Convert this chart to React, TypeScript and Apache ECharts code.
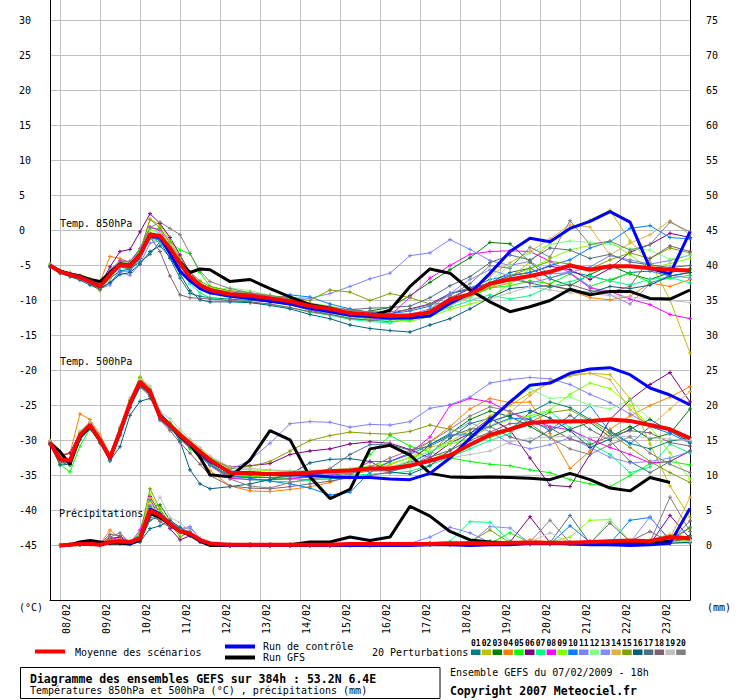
import React, { useEffect, useRef } from 'react';
import * as echarts from 'echarts';

// ---------- axes ----------
const HOURS = [0, 6, 12, 18, 24, 30, 36, 42, 48, 54, 60, 66, 72, 78, 84, 90, 96, 108, 120, 132, 144, 156, 168, 180, 192, 204, 216, 228, 240, 252, 264, 276, 288, 300, 312, 324, 336, 348, 360, 372, 384];
const GRID_STEPS = ['0', '6', '12', '18', '24', '30', '36', '42', '48', '54', '60', '66', '72', '78', '84', '90', '96', '102', '108', '114', '120', '126', '132', '138', '144', '150', '156', '162', '168', '174', '180', '186', '192', '198', '204', '210', '216', '222', '228', '234', '240', '246', '252', '258', '264', '270', '276', '282', '288', '294', '300', '306', '312', '318', '324', '330', '336', '342', '348', '354', '360', '366', '372', '378', '384'];
const DAY_TICKS = [6, 30, 54, 78, 102, 126, 150, 174, 198, 222, 246, 270, 294, 318, 342, 366];
const DAY_LABELS = ['08/02', '09/02', '10/02', '11/02', '12/02', '13/02', '14/02', '15/02', '16/02', '17/02', '18/02', '19/02', '20/02', '21/02', '22/02', '23/02'];
const LABEL_SHIFT = 4.0;
const TEMP_TICKS = [-45, -40, -35, -30, -25, -20, -15, -10, -5, 0, 5, 10, 15, 20, 25, 30];
const PRECIP_TICKS = [0, 5, 10, 15, 20, 25, 30, 35, 40, 45, 50, 55, 60, 65, 70, 75];
const PERT_COLORS = ['#008080', '#c0c000', '#008000', '#ff8000', '#00ff00', '#800080', '#00ff80', '#ff00ff', '#80ff00', '#0080ff', '#8080ff', '#80ff80', '#8888ff', '#e0b040', '#80a000', '#006080', '#507080', '#806070', '#c0c0c0', '#808080'];
const PERT_NAMES = ['01', '02', '03', '04', '05', '06', '07', '08', '09', '10', '11', '12', '13', '14', '15', '16', '17', '18', '19', '20'];

// ---------- T850 ----------
const T850_MEAN = [-5.0, -5.9, -6.3, -6.7, -7.3, -8.0, -6.3, -4.9, -5.1, -3.5, -0.6, -0.8, -2.5, -4.7, -6.6, -7.8, -8.5, -9.1, -9.3, -9.7, -10.1, -10.8, -11.2, -11.8, -12.0, -12.2, -12.1, -11.7, -9.9, -9.1, -7.6, -7.0, -6.5, -5.9, -5.0, -5.6, -5.1, -5.1, -5.4, -5.6, -5.7];
const T850_CTRL = [-5.0, -5.8, -6.2, -6.6, -7.2, -8.0, -6.2, -4.8, -5.0, -3.4, -0.8, -1.0, -3.3, -5.8, -7.2, -8.3, -8.9, -9.4, -9.7, -10.1, -10.5, -11.1, -11.6, -12.1, -12.3, -12.5, -12.5, -12.2, -10.4, -9.0, -6.1, -3.0, -1.1, -1.6, 0.3, 1.3, 2.7, 1.2, -5.4, -6.2, -0.2];
const T850_GFS = [-5.0, -5.8, -6.2, -6.5, -7.0, -7.3, -6.0, -4.8, -5.0, -3.4, -0.5, -0.9, -2.7, -4.5, -6.0, -5.5, -5.6, -7.3, -7.0, -8.3, -9.5, -10.6, -11.1, -12.0, -12.2, -11.4, -8.0, -5.5, -6.1, -8.5, -10.2, -11.6, -10.9, -10.0, -8.4, -9.2, -8.7, -8.7, -9.7, -9.8, -8.5];
const T850_P01 = [-5.1, -5.8, -6.2, -6.8, -7.5, -8.2, -6.8, -5.8, -5.5, -4.5, -3.4, -1.6, -4.0, -6.8, -9.0, -9.4, -9.6, -9.8, -10.0, -10.2, -10.6, -11.4, -12.0, -12.5, -12.8, -13.0, -12.5, -11.4, -9.8, -8.3, -7.5, -6.0, -5.4, -6.8, -5.9, -6.5, -7.2, -6.0, -5.8, -6.5, -6.0];
const T850_P02 = [-5.0, -6.0, -6.5, -6.9, -7.6, -8.6, -6.8, -5.1, -4.8, -3.0, 1.6, 0.8, -1.4, -3.8, -6.2, -7.9, -8.8, -9.3, -9.6, -9.8, -10.3, -11.0, -11.5, -12.3, -12.6, -12.8, -12.4, -11.9, -10.5, -9.4, -8.2, -6.7, -4.5, -1.8, 0.3, 1.5, 2.9, -1.5, -4.5, -9.9, -17.5];
const T850_P03 = [-5.0, -5.9, -6.2, -6.6, -7.2, -7.9, -6.0, -4.7, -5.0, -3.6, -0.9, -1.0, -2.4, -4.4, -6.3, -7.6, -8.4, -9.0, -9.2, -9.6, -10.0, -10.7, -11.4, -11.9, -11.5, -11.0, -9.3, -7.4, -5.6, -3.9, -1.7, -1.9, -4.5, -6.9, -7.9, -6.3, -5.0, -6.2, -7.0, -6.0, -5.5];
const T850_P04 = [-5.0, -5.7, -6.0, -6.4, -6.9, -7.4, -3.7, -4.0, -4.6, -3.4, -0.8, -1.2, -2.8, -5.0, -6.9, -8.1, -8.8, -9.2, -9.5, -9.7, -10.0, -10.5, -11.0, -11.5, -11.7, -12.2, -12.5, -11.5, -10.2, -9.0, -8.2, -7.5, -6.4, -7.8, -8.6, -9.6, -9.9, -9.4, -7.5, -8.0, -7.0];
const T850_P05 = [-4.8, -5.6, -6.1, -6.5, -7.0, -7.6, -5.9, -4.6, -4.4, -2.9, 0.4, 0.2, -1.6, -2.8, -3.3, -6.0, -8.0, -8.8, -9.1, -9.5, -10.0, -10.7, -11.3, -12.0, -12.5, -12.9, -12.8, -12.0, -10.7, -9.5, -8.2, -7.9, -7.2, -7.6, -6.2, -8.0, -7.0, -6.1, -7.4, -6.8, -6.4];
const T850_P06 = [-5.1, -5.9, -6.4, -6.8, -7.4, -7.8, -5.2, -3.0, -2.7, -0.2, 2.4, 1.0, -1.0, -3.5, -6.0, -7.5, -8.3, -8.9, -9.1, -9.5, -10.0, -10.8, -11.3, -11.7, -12.0, -11.9, -11.2, -10.5, -9.0, -8.4, -7.5, -6.5, -6.0, -5.1, -5.6, -7.0, -5.4, -3.1, -2.0, -0.4, -1.0];
const T850_P07 = [-5.1, -6.0, -6.5, -6.9, -7.4, -8.1, -6.6, -5.3, -5.4, -3.8, -1.2, -1.6, -3.2, -5.4, -7.6, -8.9, -9.6, -10.1, -10.3, -10.6, -11.0, -11.7, -12.1, -12.7, -13.0, -13.2, -12.6, -12.0, -11.0, -10.0, -9.2, -9.8, -9.3, -8.0, -7.3, -6.5, -7.2, -7.8, -7.0, -6.7, -7.5];
const T850_P08 = [-5.0, -6.0, -6.4, -6.8, -7.4, -7.9, -5.8, -4.3, -4.5, -2.6, 0.5, 0.0, -2.2, -4.6, -6.8, -8.0, -8.9, -9.4, -9.7, -10.0, -10.5, -11.3, -11.8, -12.3, -12.7, -12.2, -9.5, -6.8, -5.0, -3.4, -3.0, -2.9, -3.0, -4.4, -6.1, -8.2, -8.7, -9.8, -10.6, -12.0, -12.6];
const T850_P09 = [-4.9, -5.7, -6.0, -6.5, -7.0, -7.7, -6.0, -4.7, -4.8, -3.1, 0.1, -0.3, -2.1, -4.3, -6.3, -7.5, -8.2, -8.7, -9.0, -9.3, -9.7, -10.4, -10.8, -11.5, -12.3, -12.8, -13.0, -12.3, -11.3, -10.5, -9.8, -7.5, -5.5, -4.0, -2.8, -2.1, -1.6, -3.5, -5.5, -4.7, -4.0];
const T850_P10 = [-5.1, -6.0, -6.5, -6.9, -7.6, -8.2, -7.5, -5.8, -5.8, -4.0, -1.0, -1.3, -2.6, -5.0, -7.1, -8.2, -8.9, -9.4, -9.5, -9.8, -9.2, -9.5, -10.5, -11.2, -11.7, -11.9, -11.5, -10.8, -9.0, -8.2, -7.0, -6.4, -6.0, -5.0, -4.2, -2.5, -1.6, 0.3, 0.7, -1.0, -1.2];
const T850_P11 = [-5.0, -5.8, -6.3, -6.8, -7.5, -8.3, -7.8, -6.0, -6.4, -4.8, -1.8, -1.5, -2.9, -4.9, -6.8, -7.8, -8.4, -8.8, -9.0, -9.4, -9.6, -9.7, -9.0, -8.0, -6.9, -6.1, -3.6, -3.2, -1.3, -2.7, -4.3, -5.0, -4.4, -6.2, -6.0, -5.2, -3.6, -4.2, -4.8, -4.3, -3.5];
const T850_P12 = [-5.0, -5.9, -6.3, -6.7, -7.2, -7.8, -6.1, -4.8, -5.0, -3.3, -0.3, -0.6, -2.6, -4.8, -6.8, -8.0, -8.6, -8.2, -8.6, -9.3, -10.3, -11.2, -11.8, -12.4, -12.7, -12.9, -12.5, -11.8, -10.2, -8.9, -7.2, -5.0, -3.2, -2.0, -1.5, -1.7, -2.0, -2.6, -2.8, -4.1, -3.5];
const T850_P13 = [-5.1, -5.9, -6.3, -6.8, -7.4, -8.1, -6.4, -5.0, -5.2, -3.7, -0.9, -1.1, -2.8, -5.1, -6.9, -8.1, -8.8, -9.3, -9.5, -9.9, -10.3, -11.0, -11.6, -12.2, -12.4, -12.6, -12.0, -11.2, -9.0, -7.0, -5.6, -6.5, -7.5, -6.8, -6.0, -8.0, -9.2, -10.5, -7.6, -6.4, -6.8];
const T850_P14 = [-5.0, -5.9, -6.2, -6.6, -7.2, -7.9, -6.2, -4.8, -4.9, -3.3, -0.3, -0.5, -2.3, -4.4, -6.3, -7.6, -8.3, -8.9, -9.2, -9.6, -10.1, -10.8, -11.3, -11.9, -12.2, -12.4, -12.2, -11.8, -10.9, -8.8, -6.5, -4.6, -3.0, -1.2, 0.8, 0.5, -3.5, -1.8, -0.6, 1.4, -0.6];
const T850_P15 = [-5.0, -5.8, -6.2, -6.6, -7.2, -8.0, -6.2, -4.6, -4.7, -3.0, 1.6, 0.4, -1.8, -4.0, -5.9, -7.2, -8.0, -8.6, -8.9, -9.3, -9.6, -10.0, -8.5, -8.8, -10.0, -9.0, -9.6, -10.5, -10.4, -9.0, -7.8, -6.5, -5.4, -4.4, -4.8, -5.5, -4.2, -3.2, -4.0, -2.5, -3.2];
const T850_P16 = [-5.2, -6.1, -6.6, -7.1, -7.8, -8.4, -7.4, -6.3, -6.0, -4.8, -3.0, -2.2, -3.8, -6.2, -8.6, -9.9, -10.2, -10.2, -10.3, -10.7, -11.2, -12.0, -12.6, -13.5, -14.0, -14.3, -14.5, -13.5, -12.6, -11.2, -9.6, -8.3, -8.0, -7.9, -8.4, -8.9, -8.0, -8.3, -7.8, -6.5, -6.0];
const T850_P17 = [-5.1, -5.9, -6.4, -6.8, -7.3, -8.0, -6.2, -4.9, -5.3, -3.9, -1.0, -1.4, -3.1, -5.1, -6.9, -8.0, -8.6, -9.1, -9.3, -9.7, -10.2, -10.7, -11.0, -11.3, -11.1, -11.0, -10.8, -9.6, -7.9, -6.6, -4.6, -3.5, -4.2, -2.5, -2.8, -4.0, -3.4, -4.5, -4.9, -5.3, -5.0];
const T850_P18 = [-5.0, -5.9, -6.4, -6.9, -7.5, -8.3, -6.6, -5.2, -5.5, -4.0, -0.9, -3.0, -6.5, -9.2, -9.6, -9.7, -9.8, -10.0, -10.2, -10.5, -11.0, -11.6, -12.0, -12.6, -12.8, -12.7, -12.5, -11.3, -9.6, -8.3, -7.6, -6.9, -7.5, -8.1, -7.7, -8.6, -8.8, -8.0, -4.0, -2.2, -3.0];
const T850_P19 = [-5.0, -5.9, -6.3, -6.7, -7.3, -8.0, -6.3, -5.0, -5.1, -3.6, -0.5, -0.3, -2.0, -4.3, -6.4, -7.6, -8.4, -9.0, -9.3, -9.6, -10.0, -10.6, -11.0, -11.5, -11.9, -12.1, -12.0, -11.6, -10.6, -9.6, -9.8, -8.9, -8.0, -8.5, -8.9, -9.0, -9.3, -9.5, -9.8, -10.0, -10.3];
const T850_P20 = [-5.0, -5.9, -6.3, -6.6, -7.1, -7.6, -5.6, -4.4, -4.4, -2.6, 0.4, 1.2, 0.3, -0.6, -3.3, -5.8, -7.3, -8.3, -8.9, -9.3, -9.8, -10.4, -10.9, -11.4, -11.6, -11.6, -11.3, -10.6, -9.3, -7.6, -5.0, -5.4, -2.4, -3.8, 1.4, -2.0, -1.5, -2.8, -2.0, 1.2, -0.2];

// ---------- T500 ----------
const T500_MEAN = [-30.3, -32.7, -32.9, -29.2, -27.8, -29.9, -32.5, -28.7, -24.7, -21.6, -23.0, -26.6, -27.8, -29.2, -30.4, -31.6, -32.8, -34.6, -34.7, -34.8, -34.7, -34.6, -34.4, -34.3, -34.0, -34.0, -33.6, -32.9, -32.1, -30.6, -29.2, -28.4, -27.5, -27.3, -27.3, -27.2, -27.0, -27.2, -27.8, -28.4, -29.7];
const T500_CTRL = [-30.3, -32.6, -33.0, -29.3, -27.8, -29.9, -32.6, -28.8, -24.8, -21.7, -23.1, -26.6, -27.9, -29.3, -30.5, -31.8, -33.0, -34.5, -34.6, -34.8, -34.9, -35.0, -35.2, -35.3, -35.3, -35.5, -35.6, -34.7, -32.5, -29.7, -27.1, -24.5, -22.1, -21.8, -20.4, -19.8, -19.6, -20.6, -22.5, -23.5, -24.9];
const T500_GFS = [-30.3, -31.6, -33.4, -29.5, -28.0, -30.0, -32.4, -28.8, -24.8, -21.8, -23.0, -26.5, -27.7, -29.4, -30.6, -32.4, -34.9, -35.2, -32.8, -28.6, -29.9, -35.2, -38.3, -37.0, -31.2, -30.7, -32.1, -34.7, -35.2, -35.3, -35.2, -35.3, -35.4, -35.6, -34.7, -35.6, -36.8, -37.2, -35.3, -36.0, null];
const T500_P01 = [-30.5, -33.2, -33.0, -29.5, -27.3, -29.6, -32.8, -29.3, -25.2, -22.4, -23.3, -26.8, -28.1, -29.8, -31.0, -32.1, -33.5, -35.0, -35.2, -35.3, -35.4, -35.2, -35.0, -34.6, -34.4, -34.2, -33.2, -31.8, -29.7, -27.6, -26.8, -28.5, -26.0, -24.5, -25.3, -27.0, -28.6, -30.4, -31.2, -30.1, -29.6];
const T500_P02 = [-30.2, -32.5, -33.0, -29.0, -27.5, -29.7, -32.3, -28.6, -24.8, -21.2, -22.8, -26.3, -27.6, -29.3, -30.6, -31.8, -33.0, -34.9, -35.1, -35.3, -35.1, -34.8, -34.6, -34.5, -34.0, -33.5, -32.4, -31.0, -30.2, -28.5, -26.5, -25.0, -23.2, -21.8, -20.8, -20.4, -20.6, -24.0, -30.5, -36.5, -41.0];
const T500_P03 = [-30.3, -32.8, -33.2, -29.3, -27.7, -30.0, -32.6, -28.8, -25.0, -21.8, -23.2, -26.5, -27.9, -29.4, -30.6, -31.8, -33.0, -34.8, -34.8, -35.0, -35.0, -34.8, -34.6, -34.5, -34.3, -34.0, -33.0, -30.6, -29.0, -27.0, -25.8, -26.6, -28.0, -29.6, -28.4, -27.4, -29.5, -28.0, -29.8, -29.0, -25.5];
const T500_P04 = [-30.0, -32.0, -31.8, -26.2, -27.0, -29.2, -32.0, -28.2, -24.2, -21.4, -22.8, -26.4, -28.0, -29.6, -31.0, -32.5, -34.3, -36.5, -37.2, -37.3, -37.0, -36.6, -36.0, -35.0, -34.2, -33.0, -31.8, -30.2, -28.0, -25.5, -24.0, -24.6, -24.5, -29.0, -34.0, -31.5, -28.4, -26.5, -25.0, -23.8, -22.3];
const T500_P05 = [-30.5, -33.4, -34.5, -30.8, -28.3, -30.4, -32.9, -29.0, -25.0, -22.0, -23.6, -27.0, -28.3, -29.8, -31.2, -32.3, -33.5, -35.0, -35.2, -35.3, -35.5, -35.6, -35.5, -35.2, -32.0, -29.3, -30.8, -31.6, -32.5, -33.0, -33.4, -33.6, -34.2, -34.6, -35.6, -36.2, -36.6, -35.0, -33.3, -33.0, -33.5];
const T500_P06 = [-30.2, -32.3, -31.8, -28.8, -27.4, -29.6, -32.3, -28.4, -24.4, -21.3, -22.8, -26.3, -27.6, -29.0, -30.2, -31.4, -32.6, -33.8, -33.6, -33.3, -32.0, -31.5, -31.2, -30.5, -30.2, -30.4, -31.3, -32.5, -30.4, -29.0, -26.8, -28.5, -32.5, -36.4, -36.6, -32.0, -27.0, -24.2, -22.0, -20.3, -24.5];
const T500_P07 = [-30.4, -33.0, -33.6, -29.7, -28.0, -30.2, -32.6, -28.9, -25.0, -21.9, -23.3, -26.8, -28.1, -29.5, -30.7, -31.8, -33.1, -35.3, -35.6, -35.8, -35.9, -35.7, -35.4, -35.0, -34.8, -34.7, -34.4, -33.5, -32.4, -31.2, -30.0, -29.0, -26.8, -25.8, -28.2, -30.4, -32.0, -34.6, -33.8, -30.5, -31.8];
const T500_P08 = [-30.3, -32.6, -32.6, -29.0, -27.6, -29.9, -32.6, -29.0, -25.3, -22.0, -23.4, -27.0, -28.0, -29.4, -30.8, -32.0, -33.4, -35.4, -35.6, -35.6, -35.5, -35.2, -34.9, -34.5, -33.0, -33.0, -31.8, -29.5, -25.0, -24.0, -24.5, -26.0, -27.0, -28.0, -28.5, -29.8, -31.0, -32.0, -33.2, -33.0, -31.5];
const T500_P09 = [-30.1, -32.4, -32.6, -28.8, -27.4, -29.5, -32.1, -28.2, -24.2, -20.9, -22.5, -26.2, -27.4, -28.8, -30.0, -31.2, -32.4, -34.0, -34.2, -34.3, -34.4, -34.3, -34.2, -34.0, -33.6, -33.3, -32.5, -31.6, -30.5, -29.8, -28.0, -27.0, -26.5, -25.6, -23.4, -21.8, -22.6, -25.0, -28.0, -31.8, -35.5];
const T500_P10 = [-30.4, -32.9, -33.1, -29.5, -28.0, -30.1, -32.7, -28.9, -25.0, -21.9, -23.3, -26.9, -28.1, -29.5, -30.8, -32.1, -33.4, -35.0, -35.4, -35.8, -36.2, -36.8, -37.8, -37.4, -34.5, -33.0, -32.0, -30.6, -29.2, -29.2, -28.0, -26.8, -27.0, -28.6, -27.3, -25.0, -28.8, -30.5, -28.0, -29.0, -30.4];
const T500_P11 = [-30.3, -32.7, -32.8, -29.1, -27.8, -29.8, -32.4, -28.6, -24.7, -21.6, -23.0, -26.6, -27.8, -29.2, -30.4, -31.6, -32.9, -34.2, -32.8, -30.4, -27.6, -27.3, -27.4, -28.1, -27.7, -27.8, -27.3, -25.4, -24.9, -23.8, -21.8, -21.3, -21.0, -21.2, -22.0, -23.4, -24.6, -26.2, -27.8, -28.5, -30.0];
const T500_P12 = [-30.2, -32.6, -33.0, -29.3, -27.6, -29.8, -32.2, -28.4, -24.4, -21.3, -22.6, -26.1, -27.5, -28.9, -30.2, -31.4, -32.7, -34.4, -34.5, -34.7, -34.8, -34.8, -34.7, -34.5, -34.2, -33.8, -32.9, -31.5, -30.3, -29.7, -27.4, -24.5, -22.6, -24.0, -23.8, -25.0, -25.5, -24.2, -27.0, -28.6, -30.0];
const T500_P13 = [-30.3, -32.8, -33.0, -29.2, -27.9, -30.0, -32.5, -28.8, -24.9, -21.8, -23.2, -26.7, -28.0, -29.3, -30.5, -31.7, -33.0, -34.7, -34.9, -35.0, -35.0, -34.9, -34.8, -34.6, -34.3, -34.4, -33.8, -32.0, -29.0, -27.4, -28.8, -30.4, -31.2, -30.6, -29.6, -31.0, -32.4, -33.2, -33.0, -32.5, -31.6];
const T500_P14 = [-30.2, -32.6, -32.8, -29.0, -27.5, -29.6, -32.3, -28.5, -24.5, -21.4, -22.8, -26.4, -27.7, -29.1, -30.3, -31.5, -32.8, -34.5, -34.7, -34.8, -34.8, -34.7, -34.6, -34.5, -34.2, -34.0, -33.5, -32.8, -31.5, -29.7, -28.0, -26.0, -23.6, -21.5, -20.6, -20.4, -21.3, -25.6, -28.0, -25.5, -23.0];
const T500_P15 = [-30.1, -32.5, -32.7, -29.1, -27.6, -29.7, -32.3, -28.4, -24.3, -21.0, -22.7, -26.2, -27.5, -29.0, -30.2, -31.3, -32.5, -34.0, -33.7, -33.0, -31.5, -30.0, -29.3, -28.8, -29.0, -29.1, -28.7, -27.8, -28.4, -29.2, -29.6, -28.6, -27.4, -26.0, -25.6, -27.2, -29.0, -31.0, -33.0, -34.6, -36.0];
const T500_P16 = [-30.6, -33.5, -33.4, -29.9, -28.3, -30.2, -32.9, -30.9, -26.4, -24.4, -24.0, -25.9, -27.8, -30.1, -34.2, -36.2, -36.9, -36.6, -36.2, -35.6, -34.8, -33.2, -32.7, -32.6, -33.0, -34.5, -34.8, -33.6, -31.4, -29.0, -27.3, -26.4, -25.7, -26.8, -28.6, -31.0, -29.8, -28.4, -27.0, -28.7, -30.2];
const T500_P17 = [-30.4, -33.0, -33.2, -29.6, -28.1, -30.2, -32.7, -29.0, -25.1, -22.0, -23.5, -27.0, -28.3, -29.7, -31.0, -32.2, -33.5, -35.2, -35.3, -35.3, -35.1, -34.8, -34.0, -32.0, -30.6, -30.6, -31.4, -30.8, -29.4, -28.4, -28.0, -29.5, -30.2, -28.5, -26.4, -28.4, -30.0, -33.0, -34.6, -33.0, -31.5];
const T500_P18 = [-30.5, -33.1, -33.5, -29.8, -28.2, -30.4, -32.8, -29.2, -25.3, -22.3, -23.7, -27.1, -28.6, -30.3, -31.8, -33.4, -35.0, -36.5, -36.8, -36.9, -36.6, -36.2, -35.8, -35.3, -35.0, -34.5, -33.6, -32.4, -31.4, -30.0, -28.8, -27.6, -27.4, -28.2, -29.8, -30.6, -29.4, -28.6, -28.9, -30.3, -30.8];
const T500_P19 = [-30.1, -32.4, -32.5, -28.7, -27.3, -29.4, -32.0, -28.0, -23.9, -21.2, -22.2, -25.9, -26.9, -28.4, -29.8, -31.0, -32.2, -33.8, -34.0, -34.2, -34.3, -34.3, -34.2, -34.1, -34.0, -33.8, -33.2, -33.0, -32.5, -32.0, -31.5, -30.2, -29.7, -29.5, -29.4, -29.6, -29.5, -29.4, -29.6, -29.8, -30.0];
const T500_P20 = [-30.3, -32.9, -33.2, -29.4, -27.8, -30.0, -32.6, -28.8, -24.8, -21.7, -23.1, -26.7, -28.0, -29.4, -30.8, -32.2, -33.6, -35.5, -36.5, -36.8, -36.0, -35.5, -35.2, -34.8, -33.8, -32.5, -31.4, -30.2, -28.4, -26.5, -25.2, -25.8, -27.6, -29.6, -31.2, -32.0, -30.6, -29.5, -31.8, -33.4, -34.6];

// ---------- precipitation (mm) ----------
const PR_MEAN = [null, 0.0, 0.1, 0.2, 0.2, 0.1, 0.5, 0.6, 0.5, 1.0, 5.0, 4.3, 3.1, 2.0, 1.7, 0.8, 0.3, 0.1, 0.1, 0.1, 0.1, 0.1, 0.1, 0.2, 0.2, 0.2, 0.2, 0.2, 0.3, 0.3, 0.3, 0.4, 0.4, 0.4, 0.4, 0.5, 0.6, 0.7, 0.6, 1.2, 1.0];
const PR_CTRL = [null, 0.0, 0.1, 0.2, 0.2, 0.1, 0.5, 0.5, 0.3, 1.1, 5.2, 4.5, 3.0, 2.0, 1.6, 0.7, 0.2, 0.0, 0.0, 0.0, 0.0, 0.0, 0.0, 0.0, 0.0, 0.0, 0.0, 0.1, 0.1, 0.0, 0.1, 0.1, 0.3, 0.4, 0.2, 0.1, 0.1, 0.0, 0.1, 0.3, 5.3];
const PR_GFS = [null, 0.0, 0.1, 0.5, 0.7, 0.5, 0.3, 0.3, 0.2, 0.8, 4.6, 4.0, 3.0, 2.0, 1.5, 0.6, 0.0, 0.0, 0.1, 0.1, 0.1, 0.5, 0.5, 1.2, 0.7, 1.2, 5.6, 4.2, 2.0, 0.8, 0.5, 0.4, 0.3, 0.3, 0.4, 0.3, 0.4, 0.5, 0.4, 0.6, null];
const PR_P01 = [null, 0.0, 0.1, 0.1, 0.2, 0.0, 0.4, 0.5, 0.2, 0.6, 3.6, 4.2, 3.0, 2.0, 1.4, 0.6, 0.2, 0.1, 0.1, 0.0, 0.1, 0.1, 0.0, 0.1, 0.2, 0.1, 0.2, 0.3, 0.1, 0.2, 0.5, 0.3, 0.2, 0.4, 0.3, 0.2, 0.5, 0.3, 0.4, 1.0, 0.8];
const PR_P02 = [null, 0.0, 0.1, 0.2, 0.2, 0.1, 0.6, 0.7, 0.4, 1.2, 6.2, 4.0, 3.0, 2.2, 1.6, 0.7, 0.2, 0.0, 0.1, 0.1, 0.0, 0.1, 0.1, 0.0, 0.1, 0.2, 0.1, 0.2, 0.3, 0.1, 0.4, 0.2, 0.6, 0.3, 0.5, 0.4, 0.6, 0.4, 0.8, 1.6, 1.2];
const PR_P03 = [null, 0.0, 0.1, 0.2, 0.3, 0.1, 0.5, 0.6, 0.3, 1.5, 5.4, 5.8, 3.6, 2.1, 1.6, 0.7, 0.2, 0.1, 0.0, 0.1, 0.1, 0.0, 0.1, 0.2, 0.1, 0.1, 0.2, 0.1, 0.2, 0.4, 0.6, 0.3, 0.2, 0.5, 0.2, 0.3, 0.2, 0.4, 0.3, 0.6, 1.4];
const PR_P04 = [null, 0.0, 0.1, 0.2, 0.3, 0.2, 2.2, 1.0, 0.4, 0.8, 4.6, 3.8, 3.0, 2.2, 1.8, 0.8, 0.2, 0.0, 0.1, 0.0, 0.1, 0.1, 0.0, 0.1, 0.1, 0.2, 0.1, 0.2, 0.2, 0.5, 0.3, 0.4, 0.8, 0.5, 0.3, 0.6, 0.4, 0.3, 0.5, 0.8, 0.6];
const PR_P05 = [null, 0.0, 0.1, 0.2, 0.2, 0.1, 0.6, 0.8, 0.3, 1.8, 6.4, 4.8, 2.8, 1.8, 1.5, 0.6, 0.2, 0.1, 0.1, 0.1, 0.0, 0.1, 0.1, 0.1, 0.2, 0.3, 0.2, 0.1, 0.4, 0.2, 0.3, 1.8, 0.4, 0.3, 0.2, 0.5, 0.3, 0.2, 0.4, 0.3, 0.5];
const PR_P06 = [null, 0.0, 0.1, 0.2, 0.3, 0.2, 1.0, 1.2, 0.3, 0.9, 7.0, 4.5, 2.4, 0.8, 1.4, 0.5, 0.1, 0.0, 0.1, 0.0, 0.1, 0.0, 0.1, 0.1, 0.0, 0.1, 0.2, 0.1, 0.2, 0.3, 0.2, 0.5, 4.1, 0.4, 0.3, 0.2, 0.4, 0.3, 0.2, 4.3, 1.0];
const PR_P07 = [null, 0.0, 0.1, 0.1, 0.2, 0.1, 0.4, 0.6, 0.2, 1.0, 5.4, 4.6, 3.2, 2.6, 1.8, 0.9, 0.3, 0.1, 0.0, 0.1, 0.1, 0.1, 0.0, 0.1, 0.1, 0.2, 0.1, 0.4, 0.6, 3.4, 3.3, 0.6, 0.3, 0.2, 0.4, 0.3, 0.2, 0.5, 0.3, 0.4, 0.6];
const PR_P08 = [null, 0.0, 0.1, 0.2, 0.2, 0.1, 1.2, 0.8, 0.3, 2.2, 6.6, 4.0, 3.0, 2.0, 1.5, 0.7, 0.2, 0.0, 0.1, 0.1, 0.0, 0.1, 0.1, 0.1, 0.2, 0.1, 0.1, 0.2, 0.1, 0.3, 0.2, 0.3, 0.2, 0.4, 0.3, 0.2, 0.3, 0.2, 0.4, 0.3, 0.4];
const PR_P09 = [null, 0.0, 0.1, 0.1, 0.2, 0.1, 0.7, 0.5, 0.2, 1.4, 7.4, 5.0, 3.2, 1.8, 1.7, 0.8, 0.2, 0.1, 0.1, 0.0, 0.1, 0.0, 0.1, 0.0, 0.1, 0.1, 0.2, 0.1, 0.3, 0.2, 0.4, 0.2, 0.3, 0.5, 1.2, 3.6, 3.7, 0.6, 0.4, 0.5, 0.8];
const PR_P10 = [null, 0.0, 0.1, 0.2, 0.2, 0.1, 0.4, 0.3, 0.2, 0.8, 5.6, 4.6, 3.3, 2.2, 1.9, 0.8, 0.3, 0.0, 0.1, 0.1, 0.1, 0.1, 0.0, 0.1, 0.1, 0.2, 0.1, 0.2, 0.2, 0.3, 0.2, 0.4, 0.3, 0.2, 2.8, 0.5, 0.3, 3.6, 4.0, 0.8, 2.6];
const PR_P11 = [null, 0.0, 0.1, 0.1, 0.2, 0.1, 0.5, 0.6, 0.3, 0.9, 4.2, 4.4, 3.6, 2.4, 2.7, 1.0, 0.3, 0.1, 0.0, 0.1, 0.0, 0.1, 0.1, 0.1, 0.1, 0.1, 0.3, 1.2, 2.6, 1.8, 0.4, 0.3, 0.5, 0.3, 0.2, 0.4, 0.3, 0.5, 0.4, 0.6, 0.5];
const PR_P12 = [null, 0.0, 0.1, 0.2, 0.3, 0.1, 0.8, 0.7, 0.3, 1.5, 6.0, 4.2, 3.0, 2.3, 1.8, 0.7, 0.2, 0.0, 0.1, 0.0, 0.1, 0.1, 0.1, 0.0, 0.1, 0.2, 0.1, 0.2, 0.4, 0.3, 0.2, 0.3, 0.4, 0.6, 0.3, 0.2, 3.7, 0.6, 0.4, 0.5, 0.4];
const PR_P13 = [null, 0.0, 0.1, 0.1, 0.2, 0.1, 0.6, 0.6, 0.2, 1.1, 5.0, 4.4, 3.4, 2.3, 2.5, 1.0, 0.3, 0.1, 0.1, 0.1, 0.0, 0.1, 0.0, 0.1, 0.2, 0.1, 0.2, 0.3, 0.2, 0.4, 2.7, 2.5, 0.3, 0.2, 0.4, 0.3, 0.2, 0.4, 4.1, 0.6, 0.5];
const PR_P14 = [null, 0.0, 0.1, 0.2, 0.3, 0.1, 0.7, 0.9, 0.3, 1.3, 6.8, 4.4, 2.8, 1.9, 1.6, 0.6, 0.2, 0.0, 0.1, 0.1, 0.1, 0.0, 0.1, 0.1, 0.1, 0.2, 0.1, 0.2, 0.3, 0.2, 0.3, 0.2, 0.4, 0.2, 0.5, 0.3, 0.6, 0.4, 0.8, 1.0, 6.9];
const PR_P15 = [null, 0.0, 0.1, 0.2, 0.3, 0.2, 0.9, 0.8, 0.3, 1.6, 8.1, 5.2, 3.2, 1.2, 2.0, 0.7, 0.2, 0.1, 0.0, 0.1, 0.1, 0.1, 0.1, 0.2, 0.1, 0.1, 0.2, 0.1, 0.3, 0.5, 2.2, 0.4, 0.3, 0.2, 0.3, 0.4, 0.2, 0.3, 0.5, 0.6, 2.5];
const PR_P16 = [null, 0.0, 0.1, 0.1, 0.2, 0.1, 0.3, 0.3, 0.2, 0.5, 2.4, 2.8, 3.6, 2.6, 1.6, 0.8, 0.3, 0.0, 0.1, 0.0, 0.1, 0.1, 0.0, 0.1, 0.1, 0.2, 0.2, 0.3, 0.2, 0.3, 0.2, 0.4, 0.3, 0.2, 0.3, 0.4, 0.3, 0.2, 0.4, 0.5, 0.4];
const PR_P17 = [null, 0.0, 0.1, 0.1, 0.2, 0.1, 0.6, 0.7, 0.3, 1.2, 4.0, 3.8, 3.1, 2.4, 1.9, 0.7, 0.2, 0.1, 0.1, 0.1, 0.0, 0.1, 0.1, 0.1, 0.0, 0.1, 0.1, 0.2, 0.3, 0.2, 0.5, 0.3, 0.2, 0.4, 4.3, 0.3, 0.4, 0.3, 0.5, 0.4, 1.2];
const PR_P18 = [null, 0.0, 0.1, 0.2, 0.3, 0.2, 1.6, 1.4, 0.4, 1.0, 4.6, 3.4, 2.6, 2.0, 1.5, 0.6, 0.2, 0.0, 0.1, 0.0, 0.1, 0.0, 0.1, 0.1, 0.1, 0.2, 0.2, 0.1, 0.2, 0.4, 0.3, 0.2, 0.4, 0.3, 0.5, 0.3, 3.2, 0.6, 2.0, 0.5, 3.5];
const PR_P19 = [null, 0.0, 0.1, 0.2, 0.2, 0.1, 0.5, 0.6, 0.3, 1.2, 4.8, 6.9, 4.0, 3.3, 2.0, 0.8, 0.3, 0.1, 0.0, 0.1, 0.1, 0.1, 0.0, 0.1, 0.1, 0.1, 0.2, 0.2, 0.3, 0.2, 0.3, 0.4, 0.5, 1.8, 0.4, 0.3, 0.2, 0.4, 0.3, 0.5, 0.6];
const PR_P20 = [null, 0.0, 0.1, 0.2, 0.3, 0.2, 1.2, 1.8, 0.4, 1.0, 5.6, 3.8, 3.0, 2.2, 2.0, 0.8, 0.2, 0.0, 0.1, 0.1, 0.0, 0.1, 0.1, 0.0, 0.1, 0.2, 0.1, 0.3, 0.2, 0.3, 0.4, 0.3, 0.5, 3.6, 0.4, 0.6, 0.4, 0.3, 0.5, 6.9, 2.0];

const T850_PERTS = [T850_P01, T850_P02, T850_P03, T850_P04, T850_P05, T850_P06, T850_P07, T850_P08, T850_P09, T850_P10, T850_P11, T850_P12, T850_P13, T850_P14, T850_P15, T850_P16, T850_P17, T850_P18, T850_P19, T850_P20];
const T500_PERTS = [T500_P01, T500_P02, T500_P03, T500_P04, T500_P05, T500_P06, T500_P07, T500_P08, T500_P09, T500_P10, T500_P11, T500_P12, T500_P13, T500_P14, T500_P15, T500_P16, T500_P17, T500_P18, T500_P19, T500_P20];
const PR_PERTS = [PR_P01, PR_P02, PR_P03, PR_P04, PR_P05, PR_P06, PR_P07, PR_P08, PR_P09, PR_P10, PR_P11, PR_P12, PR_P13, PR_P14, PR_P15, PR_P16, PR_P17, PR_P18, PR_P19, PR_P20];

const MONO = '"DejaVu Sans Mono", "Liberation Mono", monospace';
const CROSS = 'path://M0 5L10 5M5 0L5 10';
// temperature scale: 7 px per degree, 0 °C at y = 230.5, plot from y = 0 to y = 600
const T_MAX = 32.93;
const T_MIN = -52.79;
const P_OFFSET = 45; // 0 mm aligned with -45 °C

function pairs(vals: (number | null)[]) {
  const out: [number, number][] = [];
  HOURS.forEach((h, i) => {
    const v = vals[i];
    if (v !== null && v !== undefined) out.push([h, v]);
  });
  return out;
}

function pertSeries(vals: (number | null)[], color: string, yAxisIndex: number) {
  return {
    type: 'line',
    xAxisIndex: 0,
    yAxisIndex,
    data: pairs(vals),
    symbol: CROSS,
    symbolSize: 4,
    showSymbol: true,
    lineStyle: { color, width: 1 },
    itemStyle: { color, borderColor: color, borderWidth: 1 },
    silent: true,
    z: 2,
  };
}

function mainSeries(vals: (number | null)[], color: string, width: number, yAxisIndex: number, z: number) {
  return {
    type: 'line',
    xAxisIndex: 0,
    yAxisIndex,
    data: pairs(vals),
    symbol: 'none',
    lineStyle: { color, width },
    silent: true,
    z,
  };
}

function txt(text: string, x: number, y: number, font: string, align = 'left') {
  return {
    type: 'text',
    silent: true,
    z: 100,
    style: {
      text, x, y, font, fill: '#000',
      align, verticalAlign: 'middle', textAlign: align, textVerticalAlign: 'middle',
    },
  };
}

export default function App() {
  const ref = useRef<HTMLDivElement>(null);
  useEffect(() => {
    if (!ref.current) return;
    const chart = echarts.init(ref.current, null, { renderer: 'svg' });
    const series: any[] = [];
    PR_PERTS.forEach((v, i) => series.push(pertSeries(v, PERT_COLORS[i], 1)));
    T500_PERTS.forEach((v, i) => series.push(pertSeries(v, PERT_COLORS[i], 0)));
    T850_PERTS.forEach((v, i) => series.push(pertSeries(v, PERT_COLORS[i], 0)));
    series.push(mainSeries(PR_GFS, '#000000', 3, 1, 3));
    series.push(mainSeries(T500_GFS, '#000000', 3, 0, 3));
    series.push(mainSeries(T850_GFS, '#000000', 3, 0, 3));
    series.push(mainSeries(PR_CTRL, '#0000ff', 3, 1, 4));
    series.push(mainSeries(T500_CTRL, '#0000ff', 3, 0, 4));
    series.push(mainSeries(T850_CTRL, '#0000ff', 3, 0, 4));
    series.push(mainSeries(PR_MEAN, '#ff0000', 4, 1, 5));
    series.push(mainSeries(T500_MEAN, '#ff0000', 4, 0, 5));
    series.push(mainSeries(T850_MEAN, '#ff0000', 4, 0, 5));

    const labelPos = DAY_TICKS.map((h) => h + LABEL_SHIFT);
    const legendSquares: any[] = [];
    PERT_COLORS.forEach((c, i) => {
      const x0 = 471 + 10.8 * i;
      legendSquares.push({ type: 'rect', silent: true, shape: { x: x0, y: 649.5, width: 9.5, height: 5.5 }, style: { fill: c } });
      legendSquares.push(txt(PERT_NAMES[i], x0 + 4.75, 643.5, 'bold 8px ' + MONO, 'center'));
    });

    const graphic: any[] = [
      txt('Temp. 850hPa', 60, 223.5, '10px ' + MONO),
      txt('Temp. 500hPa', 60, 361.5, '10px ' + MONO),
      txt('Précipitations', 59, 513.5, '10px ' + MONO),
      txt('(°C)', 19, 607, '10px ' + MONO),
      txt('(mm)', 707, 607, '10px ' + MONO),
      { type: 'line', silent: true, shape: { x1: 35, y1: 651.5, x2: 65, y2: 651.5 }, style: { stroke: '#ff0000', lineWidth: 4 } },
      txt('Moyenne des scénarios', 75, 652, '10px ' + MONO),
      { type: 'line', silent: true, shape: { x1: 225, y1: 646.5, x2: 255, y2: 646.5 }, style: { stroke: '#0000ff', lineWidth: 4 } },
      { type: 'line', silent: true, shape: { x1: 225, y1: 657.5, x2: 255, y2: 657.5 }, style: { stroke: '#000000', lineWidth: 4 } },
      txt('Run de contrôle', 263, 646.5, '10px ' + MONO),
      txt('Run GFS', 263, 657.5, '10px ' + MONO),
      txt('20 Perturbations', 372, 652, '10px ' + MONO),
      ...legendSquares,
      { type: 'rect', silent: true, shape: { x: 20.5, y: 667.5, width: 419.5, height: 31 }, style: { fill: 'none', stroke: '#000', lineWidth: 1 } },
      txt('Diagramme des ensembles GEFS sur 384h : 53.2N 6.4E', 30, 678.5, 'bold 11.5px ' + MONO),
      txt('Températures 850hPa et 500hPa (°C) , précipitations (mm)', 30, 690.5, '10px ' + MONO),
      txt('Ensemble GEFS du 07/02/2009 - 18h', 450, 672.5, '10px ' + MONO),
      txt('Copyright 2007 Meteociel.fr', 450, 690.5, 'bold 11.5px ' + MONO),
    ];

    chart.setOption({
      animation: false,
      backgroundColor: '#ffffff',
      grid: { left: 50, top: 0, width: 640, height: 600, containLabel: false },
      xAxis: [
        {
          type: 'value', min: 0, max: 384, position: 'bottom',
          axisLine: { show: true, onZero: false, lineStyle: { color: '#000', width: 1 } },
          axisTick: { show: false },
          splitLine: { show: false },
          axisLabel: {
            customValues: labelPos,
            formatter: (v: number) => {
              const i = labelPos.findIndex((p) => Math.abs(p - v) < 0.01);
              return i >= 0 ? DAY_LABELS[i] : '';
            },
            rotate: 90, margin: 4, fontFamily: MONO, fontSize: 10, color: '#000',
          },
        },
        {
          type: 'category', data: GRID_STEPS, boundaryGap: false, position: 'top',
          axisLine: { show: false },
          axisTick: { show: false },
          axisLabel: { show: false },
          splitLine: { show: true, interval: (idx: number) => idx % 4 === 1, lineStyle: { color: '#c0c0c0', width: 1 } },
        },
      ],
      yAxis: [
        {
          type: 'value', min: T_MIN, max: T_MAX, position: 'left',
          axisLine: { show: true, onZero: false, lineStyle: { color: '#000', width: 1 } },
          axisTick: { show: false, customValues: TEMP_TICKS },
          splitLine: { show: true, lineStyle: { color: '#c0c0c0', width: 1 } },
          axisLabel: { customValues: TEMP_TICKS, align: 'left', margin: 31, fontFamily: MONO, fontSize: 10, color: '#000' },
        },
        {
          type: 'value', min: T_MIN + P_OFFSET, max: T_MAX + P_OFFSET, position: 'right',
          axisLine: { show: true, onZero: false, lineStyle: { color: '#000', width: 1 } },
          axisTick: { show: false, customValues: PRECIP_TICKS },
          splitLine: { show: false },
          axisLabel: { customValues: PRECIP_TICKS, align: 'left', margin: 16, fontFamily: MONO, fontSize: 10, color: '#000' },
        },
      ],
      series,
      graphic,
    });
    return () => chart.dispose();
  }, []);
  return <div ref={ref} style={{ position: 'absolute', left: 0, top: 0, width: 740, height: 700, background: '#fff' }} />;
}
